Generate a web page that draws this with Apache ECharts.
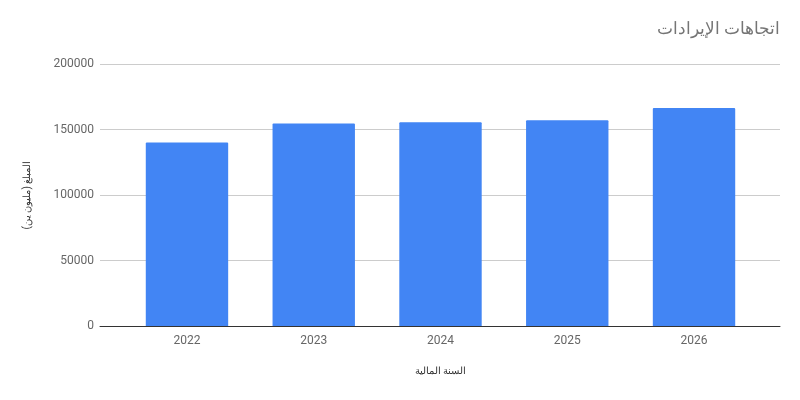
<!DOCTYPE html>
<html><head><meta charset="utf-8">
<script src="https://cdn.jsdelivr.net/npm/echarts@6/dist/echarts.min.js"></script>
<style>html,body{margin:0;padding:0;background:#fff}#c{width:800px;height:400px}</style>
</head><body><div id="c"></div>
<script>
const categories = ['2022','2023','2024','2025','2026'];
const revenue = [140000, 154500, 155500, 157000, 166500];
const titleText = 'اتجاهات الإيرادات';
const xName = 'السنة المالية';
const yName = 'المبلغ (مليون ين)';
const chart = echarts.init(document.getElementById('c'));
const labelColor = '#666';
chart.setOption({
  animation:false,
  textStyle:{fontFamily:'Roboto, "Noto Sans", sans-serif'},
  title:{text:titleText,right:20,top:21,padding:0,textStyle:{fontSize:17,fontWeight:'normal',color:'#757575',fontFamily:'"Noto Sans", sans-serif'}},
  grid:[
    {left:100,right:20,top:64,bottom:74},
    {left:123.6,right:42.6,top:64,bottom:74}
  ],
  xAxis:[
    {gridIndex:0,type:'value',min:0,max:1,axisLine:{show:true,onZero:false,lineStyle:{color:'#333'}},
      axisTick:{show:false},axisLabel:{show:false},splitLine:{show:false}},
    {gridIndex:1,type:'category',data:categories,name:xName,nameLocation:'middle',nameGap:40,
      nameTextStyle:{fontSize:10,color:'#333'},
      axisLine:{show:false},axisTick:{show:false},
      axisLabel:{color:labelColor,fontSize:12,margin:9}}
  ],
  yAxis:[
    {gridIndex:0,type:'value',min:0,max:200000,interval:50000,name:yName,nameLocation:'middle',nameGap:68,
      nameTextStyle:{fontSize:10,color:'#333'},
      axisLine:{show:false},axisTick:{show:false},
      axisLabel:{color:labelColor,fontSize:12,margin:6,formatter:v=>String(v)},
      splitLine:{lineStyle:{color:'#ccc'}}},
    {gridIndex:1,type:'value',min:0,max:200000,interval:50000,show:false,splitLine:{show:false}}
  ],
  series:[{type:'bar',xAxisIndex:1,yAxisIndex:1,data:revenue,barWidth:'65%',itemStyle:{color:'#4285f4',borderRadius:[1,1,0,0]}}]
});
</script></body></html>
